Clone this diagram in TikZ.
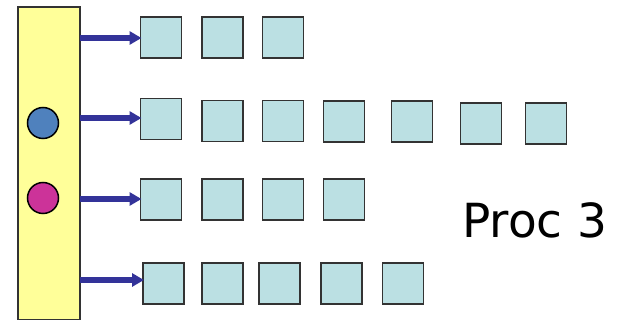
\documentclass[tikz,border=0pt]{standalone}
\usepackage{fontspec}
\setmainfont{DejaVu Sans}
\usetikzlibrary{arrows.meta}
\definecolor{sqfill}{HTML}{BBE0E3}
\definecolor{sqline}{HTML}{333333}
\definecolor{barfill}{HTML}{FFFF99}
\definecolor{arrblue}{HTML}{333399}
\definecolor{dotblue}{HTML}{4F81BD}
\definecolor{dotmag}{HTML}{CC3399}
\tikzset{
  sq/.style={draw=sqline, fill=sqfill, line width=1.3pt, minimum width=41pt, minimum height=41pt, inner sep=0pt, outer sep=0pt},
  conn/.style={draw=arrblue, line width=5.5pt, -{Triangle[length=12pt,width=13pt]}, shorten >=-1pt},
  dot/.style={circle, draw=black, line width=1.5pt, minimum size=31pt, inner sep=0pt},
}
\begin{document}
\begin{tikzpicture}[x=1pt,y=-1pt]
\useasboundingbox (0,0) rectangle (625,320);
\fill[white] (0,0) rectangle (625,320);
\draw[fill=barfill, draw=sqline, line width=1.3pt] (18,7) rectangle (80,320);
\node[dot, fill=dotblue] (pb) at (43,123) {};
\node[dot, fill=dotmag] (pm) at (43,198) {};
\coordinate (a1) at (80,38);
\coordinate (a2) at (80,118);
\coordinate (a3) at (80,199);
\coordinate (a4) at (80,280);
% row 1
\node[sq] (s11) at (161,37.5) {};
\node[sq] (s12) at (222.5,37.5) {};
\node[sq] (s13) at (283,37.5) {};
% row 2
\node[sq] (s21) at (161,119) {};
\node[sq] (s22) at (222.5,121) {};
\node[sq] (s23) at (283,121) {};
\node[sq] (s24) at (344,121.5) {};
\node[sq] (s25) at (412,121.5) {};
\node[sq] (s26) at (481,123.5) {};
\node[sq] (s27) at (546,123.5) {};
% row 3
\node[sq] (s31) at (161,199.5) {};
\node[sq] (s32) at (222.5,199.5) {};
\node[sq] (s33) at (283,199.5) {};
\node[sq] (s34) at (344,199.5) {};
% row 4
\node[sq] (s41) at (163.5,283.5) {};
\node[sq] (s42) at (222.5,283.5) {};
\node[sq] (s43) at (279.5,283.5) {};
\node[sq] (s44) at (341.5,283.5) {};
\node[sq] (s45) at (403,283.5) {};
\draw[conn] (a1) -- (a1 -| s11.west);
\draw[conn] (a2) -- (a2 -| s21.west);
\draw[conn] (a3) -- (a3 -| s31.west);
\draw[conn] (a4) -- (a4 -| s41.west);
\node[anchor=base west, inner sep=0pt, font=\fontsize{47}{52}\selectfont] (lbl) at (462,238) {Proc 3};
\end{tikzpicture}
\end{document}
